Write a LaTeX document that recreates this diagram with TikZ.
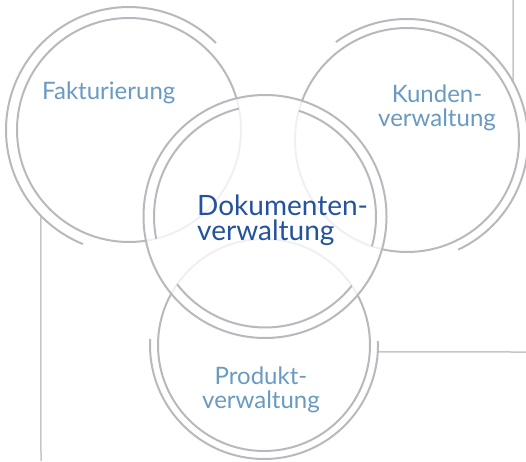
\documentclass[tikz,border=0pt]{standalone}
\usepackage{fontspec}
\setmainfont{Lato}
\usepackage{tikz}
\definecolor{ringgrau}{RGB}{184,184,190}
\definecolor{liniengrau}{RGB}{198,198,202}
\definecolor{hellblau}{RGB}{104,154,194}
\definecolor{dunkelblau}{RGB}{36,82,158}

\begin{document}
\begin{tikzpicture}[x=1pt, y=1pt,
			ring/.style={draw=ringgrau, line width=2pt},
			linie/.style={draw=liniengrau, line width=1.5pt},
			titel/.style={text=hellblau, font=\fontsize{24}{23.5}\selectfont, align=center, inner sep=0pt},
			haupt/.style={text=dunkelblau, font=\fontsize{28}{24.5}\selectfont, align=left, inner sep=0pt}]
			% Bildbereich
			\useasboundingbox (0,0) rectangle (526,461);
			% Mittelpunkte der Kreise
			\coordinate (fak) at (129,331);
			\coordinate (kun) at (407,321);
			\coordinate (pro) at (264,116);
			\coordinate (dok) at (265,244.5);
			% Linien zum Rand
			\path (fak) ++(224.3:123) coordinate (fakende);
			\path (kun) ++(28.8:121) coordinate (kunende);
			\path (pro) ++(-3.5:114) coordinate (proende);
			\coordinate (linksunten) at (41,0);
			\coordinate (rechtsoben) at (513,461);
			\coordinate (rechtsmitte) at (526,109);
			\draw[linie] (fakende) -- (linksunten);
			\draw[linie] (kunende) -- (rechtsoben);
			\draw[linie] (proende) -- (rechtsmitte);
			% aeussere Kreise
			\foreach \m/\r in {fak/112, kun/112, pro/106} \draw[ring] (\m) circle[radius=\r];
			% Boegen
			\draw[ring] (fak) ++(45:123) arc[start angle=45, end angle=248, radius=123];
			\draw[ring] (kun) ++(126:121) arc[start angle=126, end angle=-65, radius=121];
			\draw[ring] (pro) ++(177:114) arc[start angle=177, end angle=362, radius=114];
			% Mittelkreis halb durchsichtig
			\fill[white, fill opacity=0.8] (dok) circle[radius=121.5];
			\begin{scope}
				\clip (fak) circle[radius=112] (kun) circle[radius=112] (pro) circle[radius=106];
				\draw[ring] (dok) circle[radius=111];
			\end{scope}
			\draw[ring] (dok) circle[radius=121.5];
			% Beschriftung
			\node[titel, anchor=base west] (fakturierung) at (42,361) {Fakturierung};
			\node[titel, anchor=north] (kunden) at (437,376) {Kunden-\\verwaltung};
			\node[titel, anchor=north] (produkt) at (261,94) {Produkt-\\verwaltung};
			\node[haupt, anchor=north west] (dokumente) at (197,266) {Dokumenten-\\verwaltung};
		\end{tikzpicture}
\end{document}
